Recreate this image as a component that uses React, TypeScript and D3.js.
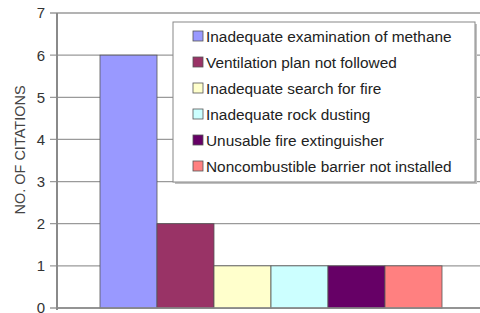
import React from "react";
import * as d3 from "d3";

const categories = [
  "Inadequate examination of methane",
  "Ventilation plan not followed",
  "Inadequate search for fire",
  "Inadequate rock dusting",
  "Unusable fire extinguisher",
  "Noncombustible barrier not installed",
];
const values = [6, 2, 1, 1, 1, 1];
const colors = ["#9999FF", "#993366", "#FFFFCC", "#CCFFFF", "#660066", "#FF8080"];
const yTicks = [0, 1, 2, 3, 4, 5, 6, 7];
const yLabel = "NO. OF CITATIONS";

export default function App() {
  const W = 480, H = 313;
  const left = 57, right = 484, top = 13, bottom = 308;
  const y = d3.scaleLinear().domain([0, 7]).range([bottom, top]);
  const x = d3.scaleBand<string>().domain(categories).range([100, 442]).padding(0);
  const font = "Arial, 'Liberation Sans', sans-serif";
  const lx = 173, ly = 22, lw = 302, lh = 160;
  return (
    <svg width={W} height={H} style={{ position: "absolute", left: 0, top: 0, background: "#fff" }}>
      {yTicks.map((t) => (
        <g key={t}>
          <line x1={50} x2={right} y1={y(t)} y2={y(t)} stroke="#9a9a9a" strokeWidth={1.3} />
          <text x={45} y={y(t)} dy="0.36em" textAnchor="end" fontFamily={font} fontSize={15} fill="#333">
            {t}
          </text>
        </g>
      ))}
      {categories.map((c, i) => (
        <rect
          key={c}
          x={x(c)!}
          y={y(values[i])}
          width={x.bandwidth()}
          height={y(0) - y(values[i])}
          fill={colors[i]}
          stroke="#555"
          strokeWidth={0.8}
        />
      ))}
      <line x1={left} x2={left} y1={top} y2={bottom + 2} stroke="#8a8a8a" strokeWidth={2} />
      <line x1={left} x2={right} y1={bottom} y2={bottom} stroke="#8a8a8a" strokeWidth={1.5} />
      <text
        transform={`translate(20,150) rotate(-90)`}
        textAnchor="middle"
        dy="0.35em"
        fontFamily={font}
        fontSize={14.5}
        fill="#444"
      >
        {yLabel}
      </text>
      <rect x={lx + 2} y={ly + 2} width={lw} height={lh} fill="#c0c0c0" />
      <rect x={lx} y={ly} width={lw} height={lh} fill="#fff" stroke="#888" strokeWidth={1} />
      {categories.map((c, i) => {
        const cy = 36 + i * 26;
        return (
          <g key={c}>
            <rect x={193} y={cy - 5} width={10} height={10} fill={colors[i]} stroke="#555" strokeWidth={0.8} />
            <text x={206} y={cy} dy="0.36em" fontFamily={font} fontSize={15.4} fill="#222">
              {c}
            </text>
          </g>
        );
      })}
    </svg>
  );
}
